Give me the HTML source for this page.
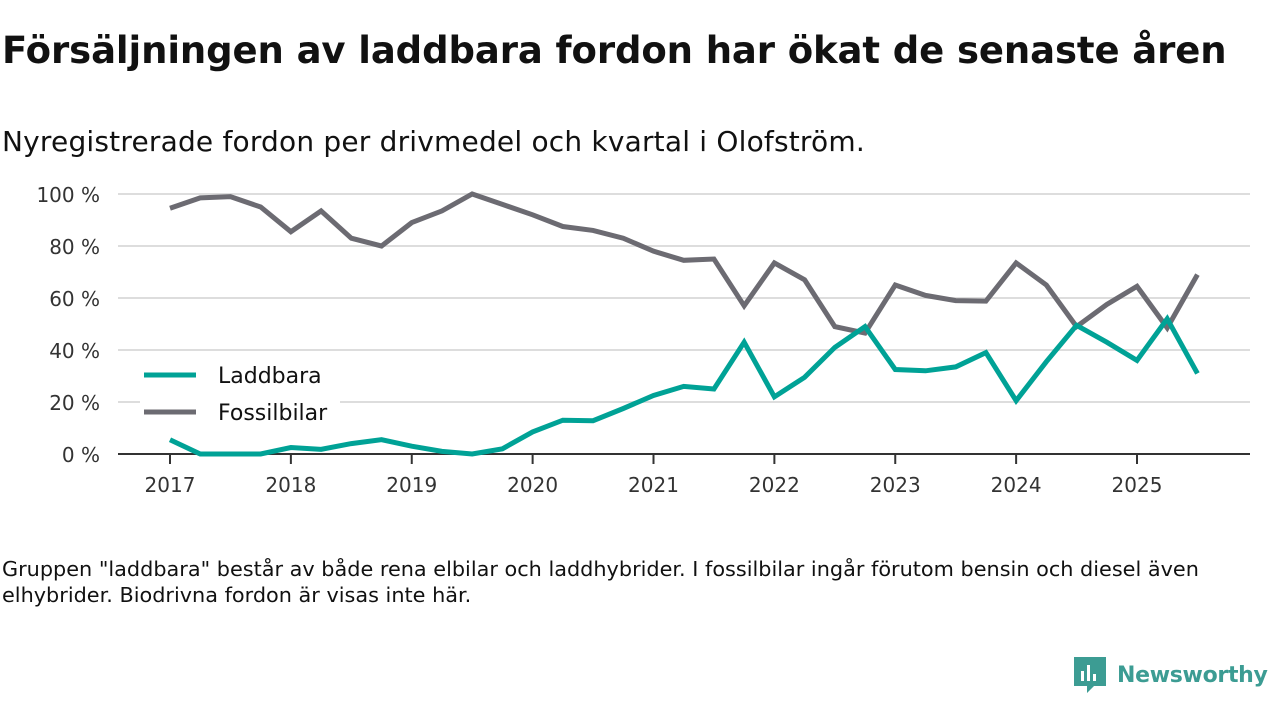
<!DOCTYPE html>
<html><head><meta charset="utf-8">
<style>
body{margin:0;width:1280px;height:720px;background:#fff;font-family:"DejaVu Sans","Liberation Sans",sans-serif;color:#111;overflow:hidden;position:relative}
#title{position:absolute;left:2px;top:29px;font-size:37px;font-weight:bold;letter-spacing:-0.1px;white-space:nowrap}
#sub{position:absolute;left:2px;top:125px;font-size:28px;letter-spacing:0.2px;white-space:nowrap}
#note{position:absolute;left:2px;top:556px;font-size:20.8px;line-height:26px;width:1215px}
#logo{position:absolute;left:1073px;top:656px;display:flex;align-items:center;gap:10px;color:#3c9c93;font-size:22px;font-weight:bold;letter-spacing:-0.3px}
svg{position:absolute;left:0;top:0}
</style></head><body>
<div id="title">Försäljningen av laddbara fordon har ökat de senaste åren</div>
<div id="sub">Nyregistrerade fordon per drivmedel och kvartal i Olofström.</div>
<svg id="chart" width="1280" height="720"></svg>
<div id="note">Gruppen "laddbara" består av både rena elbilar och laddhybrider. I fossilbilar ingår förutom bensin och diesel även elhybrider. Biodrivna fordon är visas inte här.</div>
<div id="logo"><svg style="position:static" width="34" height="38" viewBox="0 0 34 38"><path d="M1 1h32v29H21l-7 7v-7H1z" fill="#3c9c93"/><rect x="8" y="15" width="3" height="10" fill="#fff"/><rect x="14" y="9" width="3" height="16" fill="#fff"/><rect x="20" y="18" width="3" height="7" fill="#fff"/></svg><span>Newsworthy</span></div>
<script>
const years=[2017,2018,2019,2020,2021,2022,2023,2024,2025];
const yTicks=[0,20,40,60,80,100];
const laddbara=[5.5,0,0,0,2.5,1.8,4,5.5,3,1,0,2,8.5,13,12.8,17.5,22.5,26,25,43,22,29.5,41,49,32.5,32,33.5,39,20.5,35.5,49.5,43,36,52,31];
const fossil=[94.5,98.5,99,95,85.5,93.5,83,80,89,93.5,100,96,92,87.5,86,83,78,74.5,75,57,73.5,67,49,46.5,65,61,59,58.8,73.5,65,49,57.5,64.5,48.5,69];
const NS="http://www.w3.org/2000/svg";
const svg=document.getElementById('chart');
const x=t=>170+(1137-170)*(t-2017)/8;
const xq=i=>x(2017+i/4);
const y=v=>454-v*2.6;
function mk(tag,attrs){const e=document.createElementNS(NS,tag);for(const k in attrs)e.setAttribute(k,attrs[k]);svg.appendChild(e);return e;}
yTicks.forEach(v=>{
 if(v>0){const g=mk('line',{x1:118,x2:1250,y1:y(v),y2:y(v),stroke:'#ddd','stroke-width':2});
 
 }
 const t=mk('text',{x:100,y:y(v)+8,'text-anchor':'end','font-size':20,fill:'#333','font-family':'DejaVu Sans, Liberation Sans, sans-serif'});
 t.textContent=v+' %';
 
 
});
const ax=mk('line',{x1:118,x2:1250,y1:454,y2:454,stroke:'#333','stroke-width':2});


years.forEach(yr=>{
 const tk=mk('line',{x1:x(yr),x2:x(yr),y1:454,y2:464,stroke:'#333','stroke-width':2});
 
 
 const t=mk('text',{x:x(yr),y:492,'text-anchor':'middle','font-size':20,fill:'#333','font-family':'DejaVu Sans, Liberation Sans, sans-serif'});
 t.textContent=yr;
 
 
});
function line(data,color,name){
 const p=mk('polyline',{points:data.map((v,i)=>xq(i)+','+y(v)).join(' '),fill:'none',stroke:color,'stroke-width':5,'stroke-linejoin':'miter'});
 
 
}
[['Laddbara','#00a296',375],['Fossilbilar','#6c6b72',412]].forEach(([n,c,ly])=>{
 const bg=mk('rect',{x:140,y:ly-20,width:200,height:38,fill:'#fff'});
 
 
 const l=mk('line',{x1:144,x2:196,y1:ly,y2:ly,stroke:c,'stroke-width':5});
 
 
 const t=mk('text',{x:218,y:ly+8,'font-size':22,fill:'#111','font-family':'DejaVu Sans, Liberation Sans, sans-serif'});
 t.textContent=n;
 
 
});
line(fossil,'#6c6b72','fossilbilar-line');
line(laddbara,'#00a296','laddbara-line');
</script>
</body></html>
